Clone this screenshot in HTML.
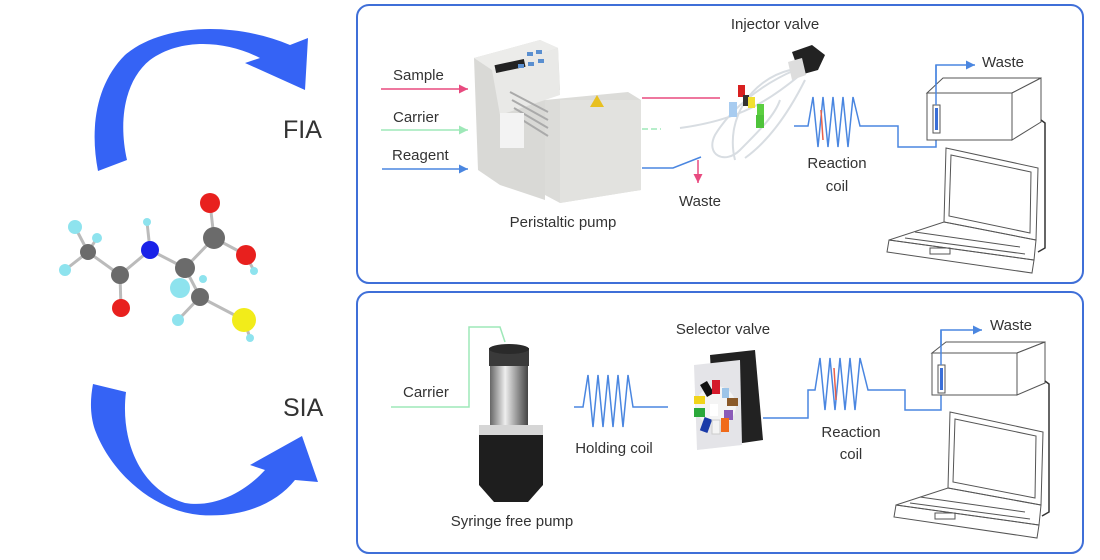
<!DOCTYPE html>
<html><head><meta charset="utf-8"><style>
html,body{margin:0;padding:0;background:#fff;}
svg{display:block;font-family:"Liberation Sans",sans-serif;}
</style></head><body>
<svg width="1100" height="560" viewBox="0 0 1100 560" xmlns="http://www.w3.org/2000/svg">
<defs>
<marker id="ap" markerWidth="8" markerHeight="8" refX="6" refY="3" orient="auto"><path d="M0,0 L6,3 L0,6 Z" fill="#e84a7f"/></marker>
<marker id="ag" markerWidth="8" markerHeight="8" refX="6" refY="3" orient="auto"><path d="M0,0 L6,3 L0,6 Z" fill="#9ee8b8"/></marker>
<marker id="ab" markerWidth="8" markerHeight="8" refX="6" refY="3" orient="auto"><path d="M0,0 L6,3 L0,6 Z" fill="#4a86e0"/></marker>
<linearGradient id="cyl" x1="0" x2="1"><stop offset="0" stop-color="#666"/><stop offset="0.4" stop-color="#eee"/><stop offset="0.7" stop-color="#999"/><stop offset="1" stop-color="#444"/></linearGradient>
</defs>

<!-- big arrows -->
<path d="M98,171 C90,130 95,85 125,55 C160,25 230,20 290,45 L308,38 L305,90 L245,63 L260,58 C225,40 180,38 150,60 C125,80 118,120 127,160 Z" fill="#3563f5"/>
<path d="M93,384 L126,392 C120,440 140,490 185,503 C215,508 245,492 265,470 L250,465 L302,436 L318,482 L295,480 C275,505 240,518 200,515 C150,510 110,470 95,430 C90,415 90,400 93,384 Z" fill="#3563f5"/>
<text x="283" y="138" font-size="25" fill="#333">FIA</text>
<text x="283" y="416" font-size="25" fill="#333">SIA</text>

<!-- molecule -->
<g stroke="#bbb" stroke-width="3">
<line x1="75" y1="227" x2="88" y2="252"/><line x1="97" y1="238" x2="88" y2="252"/><line x1="65" y1="270" x2="88" y2="252"/>
<line x1="88" y1="252" x2="120" y2="275"/><line x1="120" y1="275" x2="121" y2="308"/><line x1="120" y1="275" x2="150" y2="250"/>
<line x1="150" y1="250" x2="147" y2="222"/><line x1="150" y1="250" x2="185" y2="268"/><line x1="185" y1="268" x2="214" y2="238"/>
<line x1="214" y1="238" x2="210" y2="203"/><line x1="214" y1="238" x2="246" y2="255"/><line x1="246" y1="255" x2="254" y2="271"/>
<line x1="185" y1="268" x2="200" y2="297"/><line x1="200" y1="297" x2="244" y2="320"/><line x1="200" y1="297" x2="178" y2="320"/>
<line x1="244" y1="320" x2="250" y2="338"/>
</g>
<circle cx="75" cy="227" r="7" fill="#8ee3ee"/><circle cx="97" cy="238" r="5" fill="#8ee3ee"/><circle cx="65" cy="270" r="6" fill="#8ee3ee"/>
<circle cx="88" cy="252" r="8" fill="#6b6b6b"/><circle cx="120" cy="275" r="9" fill="#6b6b6b"/><circle cx="121" cy="308" r="9" fill="#e8201e"/>
<circle cx="147" cy="222" r="4" fill="#8ee3ee"/><circle cx="150" cy="250" r="9" fill="#1a22e8"/><circle cx="185" cy="268" r="10" fill="#6b6b6b"/>
<circle cx="210" cy="203" r="10" fill="#e8201e"/><circle cx="214" cy="238" r="11" fill="#6b6b6b"/><circle cx="246" cy="255" r="10" fill="#e8201e"/>
<circle cx="254" cy="271" r="4" fill="#8ee3ee"/><circle cx="180" cy="288" r="10" fill="#8ee3ee"/><circle cx="203" cy="279" r="4" fill="#8ee3ee"/>
<circle cx="200" cy="297" r="9" fill="#6b6b6b"/><circle cx="178" cy="320" r="6" fill="#8ee3ee"/><circle cx="244" cy="320" r="12" fill="#f2ec1a"/>
<circle cx="250" cy="338" r="4" fill="#8ee3ee"/>

<!-- panels -->
<rect x="357" y="5" width="726" height="278" rx="12" fill="none" stroke="#3f6fd8" stroke-width="2"/>
<rect x="357" y="292" width="726" height="261" rx="12" fill="none" stroke="#3f6fd8" stroke-width="2"/>

<!-- ===== FIA ===== -->
<g font-size="15" fill="#333">
<text x="393" y="80">Sample</text><text x="393" y="122">Carrier</text><text x="392" y="160">Reagent</text>
<text x="775" y="29" text-anchor="middle">Injector valve</text>
<text x="563" y="227" text-anchor="middle">Peristaltic pump</text>
<text x="700" y="206" text-anchor="middle">Waste</text>
<text x="837" y="168" text-anchor="middle">Reaction</text><text x="837" y="191" text-anchor="middle">coil</text>
<text x="982" y="67">Waste</text>
<text x="948" y="122">483 nm</text>
</g>
<line x1="381" y1="89" x2="468" y2="89" stroke="#e84a7f" stroke-width="1.5" marker-end="url(#ap)"/>
<line x1="381" y1="130" x2="468" y2="130" stroke="#9ee8b8" stroke-width="1.5" marker-end="url(#ag)"/>
<line x1="382" y1="169" x2="468" y2="169" stroke="#4a86e0" stroke-width="1.5" marker-end="url(#ab)"/>
<!-- pump -->
<path d="M474,58 L540,40 L558,48 L560,90 L545,100 L545,200 L500,185 L478,170 Z" fill="#d9d9d6"/>
<path d="M474,58 L540,40 L558,48 L492,70 Z" fill="#ececea"/>
<path d="M492,70 L558,48 L560,95 L545,100 L500,115 Z" fill="#e9e9e7"/>
<path d="M545,100 L628,92 L641,100 L641,190 L560,203 L545,195 Z" fill="#dcdcd9"/>
<path d="M560,100 L641,100 L641,190 L560,203 Z" fill="#e2e2df"/>
<rect x="495" y="62" width="30" height="8" fill="#222" transform="rotate(-12 510 66)"/>
<g fill="#5a8fd0"><rect x="527" y="52" width="6" height="4"/><rect x="536" y="50" width="6" height="4"/><rect x="518" y="64" width="6" height="4"/><rect x="528" y="62" width="6" height="4"/><rect x="538" y="59" width="6" height="4"/></g>
<g stroke="#aaa" stroke-width="2"><line x1="510" y1="92" x2="548" y2="112"/><line x1="512" y1="100" x2="548" y2="120"/><line x1="514" y1="108" x2="548" y2="128"/><line x1="516" y1="116" x2="548" y2="136"/></g>
<rect x="500" y="113" width="24" height="35" fill="#f3f3f3"/>
<path d="M597,95 L604,107 L590,107 Z" fill="#e8c020"/>
<!-- pump outlets -->
<line x1="642" y1="98" x2="720" y2="98" stroke="#e84a7f" stroke-width="1.5"/>
<line x1="642" y1="129" x2="661" y2="129" stroke="#9ee8b8" stroke-width="1.5" stroke-dasharray="6,3"/>
<polyline points="642,168 673,168 701,157" fill="none" stroke="#4a86e0" stroke-width="1.5"/>
<line x1="698" y1="160" x2="698" y2="183" stroke="#e84a7f" stroke-width="1.5" marker-end="url(#ap)"/>
<!-- injector valve -->
<g fill="none" stroke="#d8dde2" stroke-width="2">
<path d="M795,70 C760,85 730,110 715,135 C705,155 725,165 740,150 C760,130 775,115 780,100"/>
<path d="M800,75 C770,100 740,120 680,128"/><path d="M790,70 C750,80 725,120 735,160"/>
<path d="M805,80 C790,110 770,140 745,158"/>
</g>
<path d="M792,52 L812,45 L825,55 L818,70 L800,75 Z" fill="#222"/>
<path d="M788,62 L802,58 L806,75 L792,80 Z" fill="#ddd"/>
<rect x="738" y="85" width="7" height="12" fill="#d82020"/><rect x="743" y="95" width="6" height="11" fill="#333"/>
<rect x="748" y="97" width="7" height="11" fill="#f1e030"/><rect x="757" y="104" width="7" height="11" fill="#5bcf40"/>
<rect x="729" y="102" width="8" height="15" fill="#a8ccf0"/><rect x="756" y="115" width="8" height="13" fill="#4ec33a"/>
<!-- coil -->
<path d="M794,126 L808,126 L813,97 L818,147 L823,97 L828,147 L833,97 L838,147 L843,97 L848,147 L853,97 L860,126 L898,126 L898,147 L936,147 L936,65 L975,65" fill="none" stroke="#4a86e0" stroke-width="1.5" marker-end="url(#ab)"/>
<line x1="821" y1="110" x2="823" y2="140" stroke="#e8604a" stroke-width="1.5"/>
<!-- detector box -->
<g fill="#fff" stroke="#555" stroke-width="1">
<path d="M927,93 L943,78 L1041,78 L1012,93 Z"/><path d="M1012,93 L1041,78 L1041,122 L1012,140 Z"/>
<rect x="927" y="93" width="85" height="47"/></g>
<rect x="933" y="105" width="7" height="28" fill="#fff" stroke="#555"/><rect x="935" y="108" width="3" height="22" fill="#3a6fd8"/>
<line x1="936" y1="105" x2="936" y2="65" stroke="#4a86e0" stroke-width="1.5"/>
<polyline points="1041,120 1045,123 1045,248 1038,252" fill="none" stroke="#333" stroke-width="1.5"/>
<!-- laptop -->
<g fill="none" stroke="#555" stroke-width="1">
<path d="M946,148 L1038,168 L1036,240 L944,222 Z"/><path d="M951,155 L1031,172 L1030,233 L949,216 Z"/>
<path d="M944,222 L1036,240 L1034,260 L889,240 Z"/><path d="M889,240 L1034,260 L1032,273 L887,252 Z"/>
<path d="M915,232 L1020,247 M905,238 L1025,254"/><rect x="930" y="248" width="20" height="6"/>
</g>

<!-- ===== SIA ===== -->
<g font-size="15" fill="#333">
<text x="403" y="397">Carrier</text>
<text x="723" y="334" text-anchor="middle">Selector valve</text>
<text x="614" y="453" text-anchor="middle">Holding coil</text>
<text x="512" y="526" text-anchor="middle">Syringe free pump</text>
<text x="851" y="437" text-anchor="middle">Reaction</text><text x="851" y="459" text-anchor="middle">coil</text>
<text x="990" y="330">Waste</text>
<text x="955" y="386">483 nm</text>
</g>
<polyline points="391,407 469,407 469,327 500,327 505,342 M517,342 524,327 555,327 555,407 574,407" fill="none" stroke="#9ee8b8" stroke-width="1.5"/>
<path d="M574,407 L583,407 L588,375 L593,427 L598,375 L603,427 L608,375 L613,427 L618,375 L623,427 L628,375 L633,407 L668,407" fill="none" stroke="#4a86e0" stroke-width="1.5"/>
<!-- syringe pump -->
<rect x="490" y="352" width="38" height="80" fill="url(#cyl)"/>
<rect x="489" y="348" width="40" height="18" fill="#3a3a3a"/>
<ellipse cx="509" cy="349" rx="20" ry="5" fill="#2a2a2a"/>
<path d="M479,430 L543,430 L543,485 L528,502 L494,502 L479,485 Z" fill="#1e1e1e"/>
<rect x="479" y="425" width="64" height="10" fill="#d6d6d6"/>
<!-- selector valve -->
<path d="M710,355 L755,350 L763,440 L715,447 Z" fill="#222"/>
<path d="M694,365 L740,360 L742,445 L697,450 Z" fill="#e4e4e8"/>
<circle cx="716" cy="406" r="20" fill="#f4f4f4"/>
<rect x="703" y="382" width="8" height="14" fill="#111" transform="rotate(-30 707 389)"/>
<rect x="712" y="380" width="8" height="14" fill="#d41a2a"/>
<rect x="722" y="388" width="7" height="10" fill="#9cc4e8"/>
<rect x="694" y="396" width="11" height="8" fill="#f1d41a"/>
<rect x="727" y="398" width="11" height="8" fill="#8a5a2a"/>
<rect x="694" y="408" width="11" height="9" fill="#2aa83a"/>
<rect x="710" y="404" width="8" height="12" fill="#fff"/>
<rect x="724" y="410" width="9" height="10" fill="#8a5ab8"/>
<rect x="702" y="418" width="8" height="14" fill="#1a3aa8" transform="rotate(20 706 425)"/>
<rect x="712" y="420" width="8" height="14" fill="#f4f4f4" stroke="#ccc"/>
<rect x="721" y="418" width="8" height="14" fill="#f06a1a"/>
<path d="M763,418 L808,418 L808,390 L815,390 L820,358 L825,410 L830,358 L835,410 L840,358 L845,410 L850,358 L855,410 L860,358 L868,390 L905,390 L905,410 L941,410 L941,330 L982,330" fill="none" stroke="#4a86e0" stroke-width="1.5" marker-end="url(#ab)"/>
<line x1="834" y1="368" x2="836" y2="400" stroke="#e8604a" stroke-width="1.5"/>
<g fill="#fff" stroke="#555" stroke-width="1">
<path d="M932,353 L946,342 L1045,342 L1017,353 Z"/><path d="M1017,353 L1045,342 L1045,383 L1017,395 Z"/>
<rect x="932" y="353" width="85" height="42"/></g>
<rect x="938" y="365" width="7" height="28" fill="#fff" stroke="#555"/><rect x="940" y="368" width="3" height="22" fill="#3a6fd8"/>
<line x1="941" y1="365" x2="941" y2="330" stroke="#4a86e0" stroke-width="1.5"/>
<polyline points="1045,381 1049,384 1049,512 1042,516" fill="none" stroke="#333" stroke-width="1.5"/>
<g fill="none" stroke="#555" stroke-width="1">
<path d="M950,412 L1043,432 L1041,505 L948,488 Z"/><path d="M955,419 L1036,436 L1035,498 L953,482 Z"/>
<path d="M948,488 L1041,505 L1039,525 L896,505 Z"/><path d="M896,505 L1039,525 L1037,538 L894,517 Z"/>
<path d="M920,497 L1025,512 M910,503 L1030,519"/><rect x="935" y="513" width="20" height="6"/>
</g>
</svg>
</body></html>
